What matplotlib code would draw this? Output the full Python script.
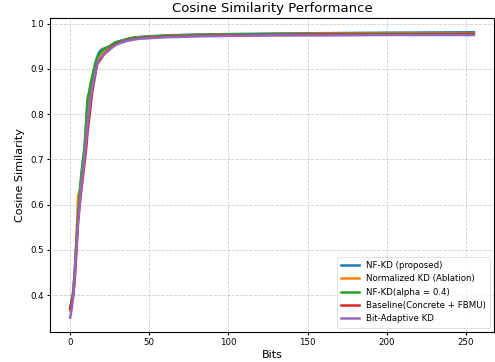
import matplotlib
matplotlib.use("Agg")
import matplotlib.pyplot as plt

bits = [0, 1, 2, 3, 4, 5, 6, 7, 8, 9, 10, 11, 12, 13, 14, 15, 16, 17, 18, 19, 20,
        22, 24, 26, 28, 30, 33, 36, 40, 45, 50, 60, 70, 80, 100, 128, 160, 200, 255]

nfkd = [0.37, 0.385, 0.41, 0.46, 0.52, 0.575, 0.62, 0.66, 0.69, 0.715, 0.77, 0.825, 0.845,
        0.865, 0.88, 0.895, 0.91, 0.925, 0.935, 0.94, 0.943, 0.946, 0.948, 0.952, 0.957,
        0.96, 0.963, 0.966, 0.969, 0.971, 0.972, 0.974, 0.975, 0.976, 0.977, 0.978, 0.979,
        0.98, 0.981]
norm_kd = [0.365, 0.385, 0.41, 0.46, 0.53, 0.62, 0.63, 0.64, 0.675, 0.70, 0.75, 0.80, 0.83,
           0.85, 0.865, 0.88, 0.905, 0.92, 0.925, 0.93, 0.935, 0.94, 0.945, 0.95, 0.955,
           0.958, 0.962, 0.965, 0.968, 0.970, 0.971, 0.973, 0.974, 0.975, 0.976, 0.977,
           0.978, 0.979, 0.979]
nfkd_alpha = [0.37, 0.39, 0.405, 0.455, 0.52, 0.58, 0.625, 0.665, 0.70, 0.725, 0.78, 0.835,
              0.85, 0.87, 0.885, 0.90, 0.915, 0.925, 0.93, 0.935, 0.94, 0.945, 0.948, 0.953,
              0.958, 0.96, 0.963, 0.966, 0.969, 0.970, 0.971, 0.973, 0.974, 0.975, 0.976,
              0.977, 0.977, 0.978, 0.978]
baseline = [0.37, 0.385, 0.40, 0.44, 0.50, 0.56, 0.60, 0.63, 0.66, 0.69, 0.72, 0.76, 0.79,
            0.82, 0.85, 0.87, 0.89, 0.91, 0.915, 0.92, 0.925, 0.935, 0.94, 0.948, 0.953,
            0.956, 0.96, 0.963, 0.966, 0.968, 0.969, 0.971, 0.972, 0.973, 0.974, 0.975,
            0.976, 0.976, 0.977]
bit_adaptive = [0.35, 0.37, 0.40, 0.45, 0.51, 0.565, 0.60, 0.64, 0.675, 0.70, 0.74, 0.78,
                0.81, 0.84, 0.86, 0.875, 0.895, 0.91, 0.918, 0.922, 0.927, 0.935, 0.94,
                0.946, 0.951, 0.955, 0.959, 0.962, 0.965, 0.967, 0.968, 0.970, 0.971,
                0.972, 0.973, 0.974, 0.974, 0.975, 0.975]

labels = ["NF-KD (proposed)", "Normalized KD (Ablation)", "NF-KD(alpha = 0.4)",
          "Baseline(Concrete + FBMU)", "Bit-Adaptive KD"]
series = [nfkd, norm_kd, nfkd_alpha, baseline, bit_adaptive]
colors = ["#1f77b4", "#ff7f0e", "#2ca02c", "#d62728", "#9467bd"]

fig = plt.figure(figsize=(4.95, 3.62), dpi=100)
ax = fig.add_axes([50 / 495, (362 - 332) / 362, 444 / 495, (332 - 18) / 362])

for vals, lab, c in zip(series, labels, colors):
    ax.plot(bits, vals, color=c, lw=1.8, label=lab)

ax.set_title("Cosine Similarity Performance", fontsize=9.5, pad=4)
ax.set_xlabel("Bits", fontsize=8, labelpad=2)
ax.set_ylabel("Cosine Similarity", fontsize=8, labelpad=4)
ax.tick_params(labelsize=6.2, length=2.5, pad=2)
ax.grid(True, linestyle="--", color="#b0b0b0", alpha=0.6, lw=0.6)
leg = ax.legend(loc="lower right", fontsize=6.2, framealpha=0.8, borderpad=0.5,
                handlelength=2.0)
leg.get_frame().set_linewidth(0.5)

fig.savefig("out.png", dpi=100)
